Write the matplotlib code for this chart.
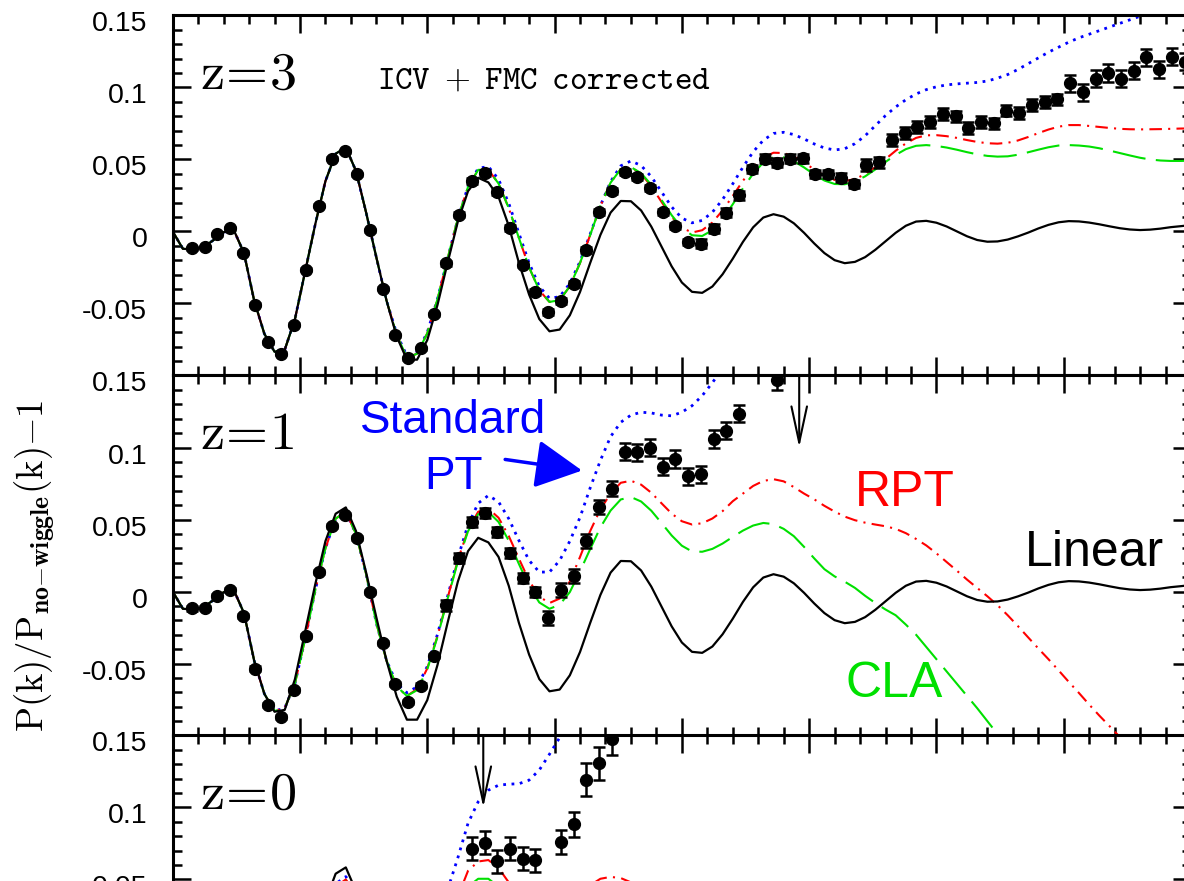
import numpy as np
import matplotlib.pyplot as plt
import matplotlib.transforms as mtransforms
from matplotlib.ticker import MultipleLocator, FixedLocator, FuncFormatter

plt.rcParams['mathtext.fontset'] = 'cm'
plt.rcParams['font.family'] = ['Liberation Sans', 'DejaVu Sans']
plt.rcParams['axes.unicode_minus'] = False

# k grid of the theory curves (h/Mpc)
k_curve = [0.000, 0.004, 0.008, 0.012, 0.016, 0.020, 0.024, 0.028, 0.032, 0.036,
           0.040, 0.044, 0.048, 0.052, 0.056, 0.060, 0.064, 0.068, 0.072, 0.076,
           0.080, 0.084, 0.088, 0.092, 0.096, 0.100, 0.104, 0.108, 0.112, 0.116,
           0.120, 0.124, 0.128, 0.132, 0.136, 0.140, 0.144, 0.148, 0.152, 0.156,
           0.160, 0.164, 0.168, 0.172, 0.176, 0.180, 0.184, 0.188, 0.192, 0.196,
           0.200, 0.204, 0.208, 0.212, 0.216, 0.220, 0.224, 0.228, 0.232, 0.236,
           0.240, 0.244, 0.248, 0.252, 0.256, 0.260, 0.264, 0.268, 0.272, 0.276,
           0.280, 0.284, 0.288, 0.292, 0.296, 0.300, 0.304, 0.308, 0.312, 0.316,
           0.320, 0.324, 0.328, 0.332, 0.336, 0.340, 0.344, 0.348, 0.352, 0.356,
           0.360, 0.364, 0.368, 0.372, 0.376, 0.380, 0.384, 0.388, 0.392, 0.396,
           0.400]

# linear theory (same in every panel)
linear = [0.0, -0.012, -0.0125, -0.011, -0.006, -0.0005, 0.001, -0.015, -0.048, -0.071,
          -0.0835, -0.0822, -0.061, -0.028, 0.005, 0.035, 0.054, 0.0584, 0.042, 0.013,
          -0.018, -0.048, -0.073, -0.089, -0.089, -0.0754, -0.0511, -0.0216, 0.0068, 0.028,
          0.0373, 0.0341, 0.024, 0.004, -0.0218, -0.0438, -0.0608, -0.0693, -0.0681, -0.0582,
          -0.042, -0.0218, -0.0024, 0.0131, 0.0212, 0.021, 0.0146, 0.0034, -0.0104, -0.0242,
          -0.0354, -0.0419, -0.0426, -0.0382, -0.0297, -0.0189, -0.0072, 0.0029, 0.0097, 0.012,
          0.0103, 0.0057, -0.0009, -0.0083, -0.015, -0.0199, -0.022, -0.0211, -0.0178, -0.0127,
          -0.0068, -0.0009, 0.004, 0.0069, 0.0074, 0.0061, 0.0035, 0.0001, -0.0033, -0.0059,
          -0.0071, -0.0069, -0.0056, -0.0034, -0.0008, 0.0021, 0.0046, 0.0064, 0.0072, 0.007,
          0.0062, 0.005, 0.0036, 0.0023, 0.0014, 0.001, 0.0013, 0.002, 0.003, 0.0037,
          0.0045]

# z = 3
z3_cla = linear[:22] + [
    -0.072, -0.0875, -0.0849, -0.0707, -0.0471, -0.0188, 0.009, 0.0309,
    0.0428, 0.0429, 0.0333, 0.0163, -0.0045, -0.0249, -0.0408, -0.0489, -0.0477, -0.038,
    -0.0219, -0.0024, 0.0177, 0.0339, 0.0433, 0.0447, 0.0405, 0.0324, 0.0219, 0.0113,
    0.0025, -0.0026, -0.0031, 0.0009, 0.0087, 0.0189, 0.03, 0.0402, 0.0479, 0.0517,
    0.0515, 0.0488, 0.0445, 0.0396, 0.0354, 0.033, 0.0328, 0.0347, 0.0383, 0.0431,
    0.0483, 0.0532, 0.0572, 0.0595, 0.06, 0.0594, 0.0583, 0.0568, 0.0551, 0.0536,
    0.0525, 0.052, 0.0522, 0.0533, 0.055, 0.0568, 0.0585, 0.0597, 0.06, 0.0597,
    0.059, 0.0578, 0.0562, 0.0545, 0.0528, 0.0512, 0.05, 0.0493, 0.049, 0.049, 0.0492]
z3_rpt = z3_cla[:45] + [
    0.0446, 0.0401, 0.0314, 0.0206, 0.0102, 0.0026, -0.0007, 0.0009, 0.0063, 0.0146,
    0.0247, 0.0352, 0.0445, 0.0514, 0.0547, 0.0545, 0.052, 0.0479, 0.0431, 0.0387,
    0.0358, 0.035, 0.0364, 0.0398, 0.0446, 0.0503, 0.0561, 0.0612, 0.065, 0.0668,
    0.0669, 0.0662, 0.065, 0.0635, 0.0622, 0.0613, 0.061, 0.0616, 0.0632, 0.0656,
    0.0683, 0.0708, 0.0728, 0.0739, 0.0739, 0.0733, 0.0726, 0.0719, 0.0713, 0.071,
    0.0709, 0.071, 0.0711, 0.0713, 0.0715, 0.0716]
z3_spt = linear[:22] + [
    -0.071, -0.0865, -0.084, -0.0701, -0.0469, -0.0189, 0.0087, 0.0312,
    0.0439, 0.0451, 0.0362, 0.0196, -0.0013, -0.0219, -0.0381, -0.0464, -0.0453, -0.0361,
    -0.0209, -0.0018, 0.0179, 0.0346, 0.0456, 0.049, 0.0458, 0.0381, 0.0276, 0.0171,
    0.0093, 0.006, 0.0077, 0.0134, 0.0222, 0.0331, 0.0447, 0.0553, 0.0634, 0.0681,
    0.0689, 0.0673, 0.0643, 0.0608, 0.058, 0.0566, 0.0575, 0.061, 0.0665, 0.0735,
    0.0805, 0.0865, 0.0915, 0.0955, 0.0985, 0.1005, 0.1018, 0.1025, 0.103, 0.1035,
    0.1045, 0.1065, 0.109, 0.1125, 0.1165, 0.1205, 0.1245, 0.128, 0.1315, 0.1345,
    0.137, 0.1395, 0.142, 0.1445, 0.147, 0.1495, 0.152, 0.155]

# z = 1
z1_cla = [0.0, -0.012, -0.0125, -0.011, -0.006, -0.0005, 0.001, -0.015, -0.048, -0.071,
          -0.083, -0.081, -0.064, -0.033, 0.001, 0.030, 0.0506, 0.0555, 0.040, 0.012,
          -0.022, -0.048, -0.066, -0.0725, -0.0685, -0.054, -0.0316, -0.005, 0.0207, 0.0418,
          0.0537, 0.0552, 0.0483, 0.0353, 0.0191, 0.0037, -0.0076, -0.012, -0.0092, -0.0004,
          0.014, 0.0295, 0.0445, 0.0562, 0.0639, 0.0656, 0.0625, 0.0561, 0.0476, 0.0389,
          0.0318, 0.0278, 0.0276, 0.0296, 0.0333, 0.0379, 0.0423, 0.0458, 0.0476, 0.0468,
          0.0435, 0.0384, 0.031, 0.023, 0.0155, 0.0105, 0.0068, 0.0025, -0.003, -0.008,
          -0.0125, -0.0165, -0.023, -0.030, -0.0385, -0.047, -0.0555, -0.064, -0.0725, -0.081,
          -0.090, -0.099, -0.108]
z1_rpt = z1_cla[:24] + [
    -0.0678, -0.0534, -0.031, -0.0044, 0.0217, 0.0428, 0.0554, 0.0576, 0.0512, 0.0386,
    0.0228, 0.0076, -0.0036, -0.008, -0.0049, 0.007, 0.024, 0.042, 0.057, 0.068,
    0.0755, 0.0769, 0.0742, 0.0686, 0.0613, 0.0541, 0.0488, 0.0465, 0.0474, 0.0507,
    0.0558, 0.0627, 0.068, 0.0733, 0.0768, 0.078, 0.0765, 0.0725, 0.068, 0.064,
    0.0595, 0.0555, 0.052, 0.0495, 0.0478, 0.0465, 0.0453, 0.0435, 0.0405, 0.0365,
    0.032, 0.0265, 0.0205, 0.0145, 0.0083, 0.0025, -0.0033, -0.0095, -0.0165, -0.024,
    -0.0318, -0.0395, -0.047, -0.0548, -0.0628, -0.0705, -0.0785, -0.0862, -0.0935, -0.101,
    -0.108]
z1_spt = z1_cla[:22] + [
    -0.064, -0.0703, -0.0662, -0.0521, -0.0298, -0.0033, 0.0233, 0.0462, 0.0613, 0.0667,
    0.0623, 0.0506, 0.0354, 0.0216, 0.0135, 0.0135, 0.0215, 0.035, 0.0515, 0.072,
    0.091, 0.1075, 0.1175, 0.1225, 0.1245, 0.124, 0.1225, 0.122, 0.1245, 0.129,
    0.136, 0.145, 0.155, 0.166]

# z = 0 (only the upper part of the panel is visible), from k_curve[14]
z0_spt = [0.005, 0.030, 0.047, 0.052, 0.042, 0.015, -0.015, -0.04, -0.052, -0.055,
          -0.05, -0.025, 0.010, 0.043, 0.065, 0.089, 0.104, 0.112, 0.1155, 0.1162,
          0.1165, 0.119, 0.126, 0.137, 0.1485, 0.162]
z0_rpt = [0.005, 0.029, 0.045, 0.050, 0.040, 0.012, -0.02, -0.045, -0.055, -0.058,
          -0.05, -0.035, -0.015, 0.012, 0.038, 0.056, 0.0625, 0.0635, 0.058, 0.048,
          0.036, 0.027, 0.021, 0.02, 0.024, 0.031, 0.039, 0.046, 0.0505, 0.0518,
          0.051, 0.048, 0.043, 0.037]
z0_cla = [0.005, 0.028, 0.044, 0.0485, 0.038, 0.011, -0.02, -0.045, -0.056, -0.06,
          -0.052, -0.038, -0.018, 0.008, 0.03, 0.045, 0.0505, 0.0505, 0.045, 0.034, 0.02]

# simulation measurements
k_pts = [0.0075, 0.0125, 0.0175, 0.0225, 0.0275, 0.0325, 0.0375, 0.0425, 0.0475, 0.0525,
         0.0575, 0.0625, 0.0675, 0.0725, 0.0775, 0.0825, 0.0875, 0.0925, 0.0975, 0.1025,
         0.1075, 0.1125, 0.1175, 0.1225, 0.1275, 0.1325, 0.1375, 0.1425, 0.1475, 0.1525,
         0.1575, 0.1625, 0.1675, 0.1725, 0.1775, 0.1825, 0.1875, 0.1925, 0.1975, 0.2025,
         0.2075, 0.2125, 0.2175, 0.2225, 0.2275, 0.2325, 0.2375, 0.2425, 0.2475, 0.2525,
         0.2575, 0.2625, 0.2675, 0.2725, 0.2775, 0.2825, 0.2875, 0.2925, 0.2975, 0.3025,
         0.3075, 0.3125, 0.3175, 0.3225, 0.3275, 0.3325, 0.3375, 0.3425, 0.3475, 0.3525,
         0.3575, 0.3625, 0.3675, 0.3725, 0.3775, 0.3825, 0.3875, 0.3925, 0.3975]
z3_pts = [-0.0118, -0.011, -0.002, 0.0023, -0.0147, -0.0507, -0.077, -0.085, -0.0646, -0.0264,
          0.018, 0.0505, 0.0558, 0.0396, 0.0009, -0.0398, -0.072, -0.088, -0.081, -0.0576,
          -0.0222, 0.0118, 0.035, 0.0407, 0.0276, 0.0026, -0.023, -0.0419, -0.0558, -0.0484,
          -0.0363, -0.013, 0.0134, 0.028, 0.0415, 0.038, 0.0303, 0.0134, 0.0037, -0.0074,
          -0.0085, 0.0019, 0.013, 0.025, 0.0435, 0.0505, 0.0477, 0.0505, 0.0507, 0.04,
          0.04, 0.0373, 0.033, 0.046, 0.048, 0.0634, 0.0685, 0.0727, 0.0759, 0.0817,
          0.08, 0.072, 0.076, 0.075, 0.084, 0.0824, 0.088, 0.09, 0.0917, 0.103,
          0.0967, 0.106, 0.11, 0.106, 0.1118, 0.121, 0.1125, 0.1213, 0.118]
z3_err = [0.001] * 20 + [0.002] * 20 + [0.003] * 13 + [0.004] * 16 + [0.006] * 10

k_z1 = k_pts[:44] + [0.2375]
z1_pts = [-0.0118, -0.0113, -0.0032, 0.0009, -0.0171, -0.0535, -0.079, -0.087, -0.0685, -0.031,
          0.0134, 0.0454, 0.053, 0.0373, -0.0005, -0.0356, -0.064, -0.0766, -0.0653, -0.045,
          -0.0097, 0.0234, 0.0481, 0.0547, 0.0415, 0.0269, 0.0095, -0.0005, -0.0183, 0.0009,
          0.0106, 0.035, 0.0588, 0.0715, 0.097, 0.0967, 0.0998, 0.0866, 0.0921, 0.08,
          0.0813, 0.106, 0.1118, 0.1234, 0.147]
z1_err = [0.0015] * 20 + [0.0035] * 8 + [0.005] * 6 + [0.006] * 10 + [0.007]

k_z0 = [0.1175, 0.1225, 0.1275, 0.1325, 0.1375, 0.1425, 0.1525, 0.1575, 0.1625, 0.1675, 0.1725]
z0_pts = [0.0713, 0.0755, 0.0627, 0.0713, 0.0644, 0.0634, 0.0759, 0.0882, 0.1194, 0.1306, 0.1477]
z0_err = [0.008, 0.008, 0.008, 0.008, 0.008, 0.008, 0.0085, 0.0085, 0.0115, 0.0115, 0.0115]


def fmt(v, pos):
    if v < -0.09:
        return ''
    if abs(v) < 1e-9:
        return '0'
    return f'{v:g}'


def setup(ax):
    ax.set_xlim(0, 0.4)
    ax.set_ylim(-0.1, 0.15)
    ax.xaxis.set_major_locator(MultipleLocator(0.05))
    ax.xaxis.set_minor_locator(MultipleLocator(0.01))
    ax.yaxis.set_major_locator(FixedLocator([-0.1, -0.05, 0, 0.05, 0.1, 0.15]))
    ax.yaxis.set_minor_locator(MultipleLocator(0.01))
    ax.yaxis.set_major_formatter(FuncFormatter(fmt))
    ax.tick_params(which='both', direction='in', top=True, right=True,
                   labelbottom=False, width=1.8)
    ax.tick_params(which='major', length=13, labelsize=20.5, pad=24)
    ax.tick_params(which='minor', length=6.5)
    for s in ax.spines.values():
        s.set_linewidth(2.2)
    # labels sit a little below their ticks in the original
    for t in ax.yaxis.get_major_ticks():
        dx = 0.08 if t.get_loc() == 0 else 0.0
        off = mtransforms.ScaledTranslation(dx, -0.06, fig.dpi_scale_trans)
        t.label1.set_transform(t.label1.get_transform() + off)


def curves(ax, k, spt, rpt, cla, lin):
    ax.plot(k[:len(spt)], spt, color='blue', lw=2.0, ls=(0, (1, 2)))
    ax.plot(k[:len(rpt)], rpt, color='red', lw=1.5, ls=(0, (6, 3, 1, 3)))
    ax.plot(k[:len(cla)], cla, color='#00e000', lw=1.5, ls=(0, (16, 5)))
    ax.plot(k[:len(lin)], lin, color='black', lw=1.6)


def points(ax, k, v, e):
    ax.errorbar(k, v, yerr=e, fmt='o', color='black', ms=8.5, elinewidth=1.8,
                capsize=4.5, capthick=1.8, zorder=5)


fig = plt.figure(figsize=(11.84, 8.81), dpi=100)
left, width, h = 0.14586, 0.86005, 0.40863
ax3 = fig.add_axes([left, 0.57378, width, h])
ax1 = fig.add_axes([left, 0.16515, width, h])
ax0 = fig.add_axes([left, -0.24347, width, h])

for ax in (ax3, ax1, ax0):
    setup(ax)

# z = 3
curves(ax3, k_curve, z3_spt, z3_rpt, z3_cla, linear)
points(ax3, k_pts, z3_pts, z3_err)
ax3.text(0.0107, 0.0993, r'$\mathrm{z\!=\!3}$', fontsize=39, va='baseline')
ax3.text(0.0803, 0.0993, r'$\mathtt{ICV\enspace{+}\enspace FMC\enspace corrected}$',
         fontsize=24, va='baseline')

# z = 1
curves(ax1, k_curve, z1_spt, z1_rpt, z1_cla, linear)
points(ax1, k_z1, z1_pts, z1_err)
ax1.text(0.0107, 0.0993, r'$\mathrm{z\!=\!1}$', fontsize=39, va='baseline')
ax1.text(0.0736, 0.1104, 'Standard', color='blue', fontsize=33, va='baseline')
ax1.text(0.1103, 0.0713, 'PT', color='blue', fontsize=33, va='baseline', ha='center')
ax1.text(0.268, 0.0597, 'RPT', color='red', fontsize=36, va='baseline')
ax1.text(0.3348, 0.018, 'Linear', color='black', fontsize=36, va='baseline')
ax1.text(0.2641, -0.0736, 'CLA', color='#00e000', fontsize=36, va='baseline')
ax1.annotate('', xy=(0.1608, 0.084), xytext=(0.1306, 0.0917),
             arrowprops=dict(arrowstyle='-|>,head_length=1.45,head_width=0.75',
                             mutation_scale=20, color='blue', lw=2.5,
                             shrinkA=0, shrinkB=0))
ax1.annotate('', xy=(0.2461, 0.100), xytext=(0.2461, 0.15),
             arrowprops=dict(arrowstyle='->,head_length=1.3,head_width=0.28',
                             mutation_scale=20, color='black', lw=1.5,
                             shrinkA=0, shrinkB=0))

# z = 0
k0 = k_curve[14:]
curves(ax0, k0, z0_spt, z0_rpt, z0_cla, linear[14:])
points(ax0, k_z0, z0_pts, z0_err)
ax0.text(0.0107, 0.0993, r'$\mathrm{z\!=\!0}$', fontsize=39, va='baseline')
ax0.annotate('', xy=(0.122, 0.100), xytext=(0.122, 0.15),
             arrowprops=dict(arrowstyle='->,head_length=1.3,head_width=0.28',
                             mutation_scale=20, color='black', lw=1.5,
                             shrinkA=0, shrinkB=0))

fig.text(35 / 1184, 1 - 566 / 881, r'$\mathrm{P(k)/P_{\mathbf{no{-}wiggle}}(k){-}1}$',
         rotation=90, ha='center', va='center', fontsize=26.5)

fig.savefig('out.png', dpi=100)
